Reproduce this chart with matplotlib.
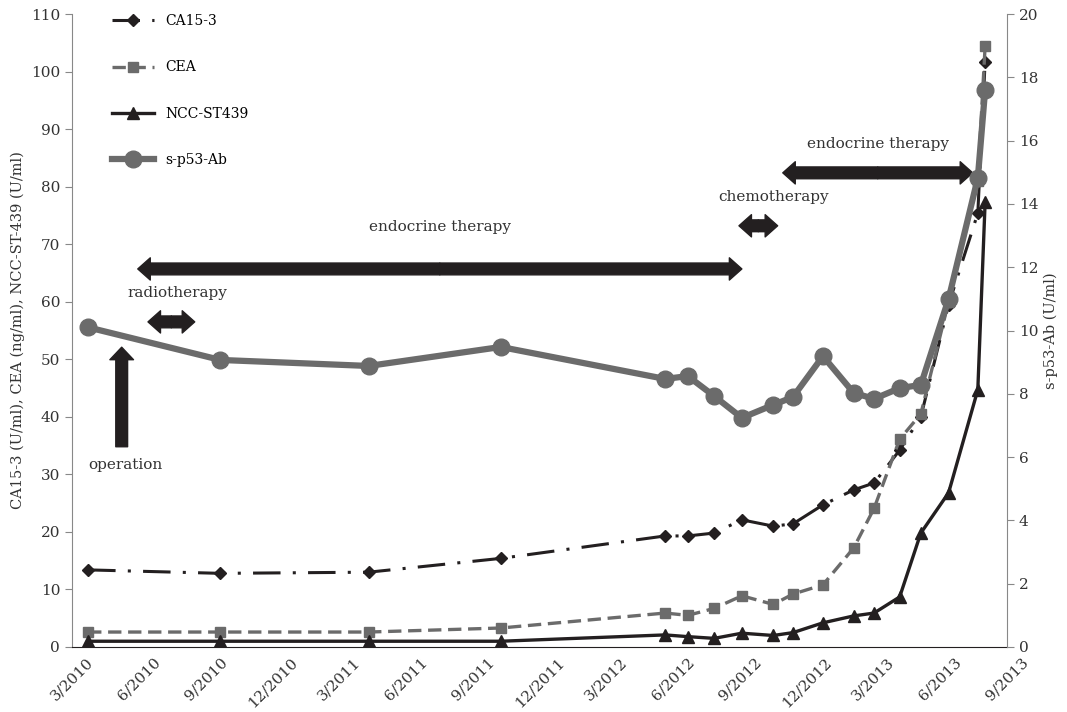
import numpy as np
import pandas as pd
import matplotlib
matplotlib.use('Agg')
import matplotlib.pyplot as plt
import matplotlib.dates as mdates
from matplotlib.patches import FancyArrowPatch, ArrowStyle

# fechas de las mediciones
fechas = ['2010-03-23', '2010-09-20', '2011-04-11', '2011-10-09', '2012-05-21',
          '2012-06-21', '2012-07-27', '2012-09-03', '2012-10-16', '2012-11-12',
          '2012-12-23', '2013-02-03', '2013-03-03', '2013-04-07', '2013-05-06',
          '2013-06-13', '2013-07-23', '2013-08-02']

ca153 = [13.4, 12.8, 13.0, 15.4, 19.3, 19.3, 19.8, 22.1, 21.0, 21.4,
         24.7, 27.3, 28.5, 34.2, 40.0, 59.5, 75.4, 101.7]
cea = [2.6, 2.6, 2.6, 3.3, 5.9, 5.5, 6.7, 8.9, 7.4, 9.2,
       10.8, 17.2, 24.1, 36.1, 40.5, 60.0, 81.0, 104.4]
ncc = [1.0, 1.0, 1.0, 1.0, 2.1, 1.8, 1.5, 2.4, 2.0, 2.5,
       4.2, 5.4, 5.9, 8.7, 19.8, 26.8, 44.7, 77.3]
p53 = [10.1, 9.07, 8.88, 9.48, 8.47, 8.56, 7.93, 7.24, 7.65, 7.9,
       9.19, 8.03, 7.84, 8.18, 8.28, 11.0, 14.82, 17.6]

ticks_x = ['2010-03-01', '2010-06-01', '2010-09-01', '2010-12-01', '2011-03-01',
           '2011-06-01', '2011-09-01', '2011-12-01', '2012-03-01', '2012-06-01',
           '2012-09-01', '2012-12-01', '2013-03-01', '2013-06-01', '2013-09-01']
etiquetas_x = ['3/2010', '6/2010', '9/2010', '12/2010', '3/2011', '6/2011', '9/2011',
               '12/2011', '3/2012', '6/2012', '9/2012', '12/2012', '3/2013', '6/2013', '9/2013']

# tratamientos: nombre, inicio, fin
tratamientos = ['radiotherapy', 'endocrine therapy', 'chemotherapy', 'endocrine therapy']
inicio = ['2010-06-13', '2010-05-30', '2012-08-30', '2012-10-29']
fin = ['2010-08-16', '2012-09-03', '2012-10-22', '2013-07-16']
fecha_operacion = '2010-05-08'

negro = '#231f20'
gris = '#6b6b6b'

plt.rcParams['font.family'] = ['DejaVu Serif']

t = pd.to_datetime(fechas)
tx = mdates.date2num(pd.to_datetime(ticks_x))

fig = plt.figure(figsize=(10.67, 7.12), dpi=100)
ax = fig.add_axes([0.0675, 0.0913, 0.8763, 0.889])
ax2 = ax.twinx()

l1, = ax.plot(t, ca153, color=negro, lw=2.2, dashes=(9, 4, 1, 4), marker='D', ms=6.5,
              label='CA15-3')
l2, = ax.plot(t, cea, color=gris, lw=2.4, dashes=(4, 2), marker='s', ms=7.5,
              label='CEA')
l3, = ax.plot(t, ncc, color=negro, lw=2.4, marker='^', ms=9, label='NCC-ST439')
l4, = ax2.plot(t, p53, color=gris, lw=4.5, marker='o', ms=12, label='s-p53-Ab')

ax.set_xlim(tx[0], tx[-1])
ax.set_ylim(0, 110)
ax.set_yticks(np.arange(0, 111, 10))
ax2.set_ylim(0, 20)
ax2.set_yticks(np.arange(0, 21, 2))
ax.set_xticks(tx)
ax.set_xticklabels(etiquetas_x, rotation=45, ha='center', fontsize=11)

for a in (ax, ax2):
    a.spines['top'].set_visible(False)
    a.tick_params(axis='y', labelsize=11, colors='#333333', length=5, color='#888888')
    a.spines['left'].set_color('#888888')
    a.spines['right'].set_color('#888888')
ax.spines['bottom'].set_color(negro)
ax.tick_params(axis='x', length=0, colors='#333333', pad=6)
ax.spines['right'].set_visible(False)
ax2.spines['left'].set_visible(False)
ax2.spines['bottom'].set_visible(False)

ax.set_ylabel('CA15-3 (U/ml), CEA (ng/ml), NCC-ST-439 (U/ml)', fontsize=10.5, color='#333333')
ax2.set_ylabel('s-p53-Ab (U/ml)', fontsize=10.5, color='#333333')

# flechas de tratamientos
estilo = ArrowStyle('Simple', head_length=0.9, head_width=1.6, tail_width=0.85)
alturas = [56.5, 65.7, 73.2, 82.4]
for nombre, a, b, y in zip(tratamientos, inicio, fin, alturas):
    x0 = mdates.date2num(pd.Timestamp(a))
    x1 = mdates.date2num(pd.Timestamp(b))
    xm = (x0 + x1) / 2
    for xe in (x0, x1):
        ax.add_patch(FancyArrowPatch((xm, y), (xe, y), arrowstyle=estilo, mutation_scale=10,
                                     color=negro, shrinkA=0, shrinkB=0))
    if nombre == 'chemotherapy':
        dx = 11
    elif nombre == 'radiotherapy':
        dx = 4
    else:
        dx = 0
    dy = 30 if (nombre == 'endocrine therapy' and y < 70) else 21
    ax.annotate(nombre, (xm, y), xytext=(dx, dy), textcoords='offset points',
                ha='center', va='center', fontsize=11, color='#333333')

xo = mdates.date2num(pd.Timestamp(fecha_operacion))
ax.add_patch(FancyArrowPatch((xo, 34.8), (xo, 52.1),
                             arrowstyle=ArrowStyle('Simple', head_length=0.9, head_width=1.7, tail_width=0.85),
                             mutation_scale=10, color=negro, shrinkA=0, shrinkB=0))
ax.annotate('operation', (xo, 34.8), xytext=(3, -13), textcoords='offset points',
            ha='center', va='center', fontsize=11, color='#333333')

ax.legend([l1, l2, l3, l4], ['CA15-3', 'CEA', 'NCC-ST439', 's-p53-Ab'], loc='upper left',
          bbox_to_anchor=(0.043, 1.0), frameon=False, fontsize=10, labelspacing=2.33,
          handlelength=3.0, numpoints=1, borderaxespad=0, borderpad=0)

fig.savefig('out.png', dpi=100)
